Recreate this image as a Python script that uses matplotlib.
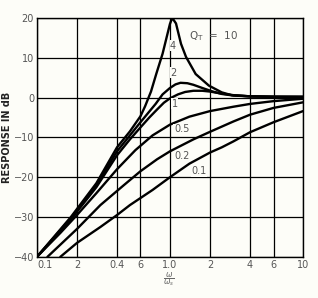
import numpy as np
import matplotlib
matplotlib.use('Agg')
import matplotlib.pyplot as plt

# values (frequency ratio, response in dB)
x_q10 = [0.1, 0.18, 0.28, 0.4, 0.5, 0.6, 0.65, 0.72, 0.79, 0.88, 0.95, 1.0, 1.04, 1.11, 1.21, 1.32, 1.56, 1.96, 2.45, 2.9, 4, 6, 10]
y_q10 = [-40, -30, -21.5, -12.5, -8.5, -4.7, -2.2, 1.5, 6, 11, 15.5, 18.5, 20, 18.6, 13.5, 10.2, 5.9, 3.0, 1.3, 0.6, 0.3, 0.2, 0.2]

x_q2 = [0.1, 0.18, 0.28, 0.4, 0.5, 0.6, 0.7, 0.78, 0.88, 1.0, 1.1, 1.2, 1.35, 1.5, 1.75, 2.1, 2.45, 3, 4, 6, 10]
y_q2 = [-40, -30.3, -22, -13.5, -9.5, -6.2, -3.5, -1.6, 0.8, 2.4, 3.3, 3.7, 3.6, 3.2, 2.4, 1.5, 0.9, 0.5, 0.3, 0.2, 0.2]

x_q1 = [0.1, 0.18, 0.28, 0.4, 0.5, 0.6, 0.7, 0.8, 0.9, 1.0, 1.15, 1.3, 1.5, 1.75, 2.0, 2.45, 3, 4, 6, 10]
y_q1 = [-40, -30.6, -22.5, -14.5, -10.5, -7.5, -5, -3, -1.3, -0.2, 0.8, 1.4, 1.7, 1.7, 1.5, 1.0, 0.6, 0.3, 0.2, 0.1]

x_q05 = [0.1, 0.15, 0.2, 0.28, 0.4, 0.55, 0.74, 1.0, 1.4, 2.0, 3, 4, 6, 10]
y_q05 = [-40, -34, -29.5, -24, -18, -13.2, -9.5, -6.8, -4.8, -3.4, -2.3, -1.6, -0.9, -0.3]

x_q02 = [0.12, 0.2, 0.3, 0.45, 0.6, 0.8, 1.0, 1.5, 2.0, 2.45, 3, 4, 6, 10]
y_q02 = [-40, -33, -27, -22, -18.5, -15.5, -13.5, -10.5, -8.6, -7.3, -6, -4.3, -2.6, -1.2]

x_q01 = [0.15, 0.2, 0.3, 0.4, 0.5, 0.74, 1.0, 1.4, 2.0, 2.45, 3, 4, 6, 10]
y_q01 = [-40, -36.5, -32.5, -29.5, -27, -23.2, -20, -16.6, -13.8, -12.5, -11, -8.7, -6.2, -3.4]

curves = [(x_q10, y_q10), (x_q2, y_q2), (x_q1, y_q1), (x_q05, y_q05), (x_q02, y_q02), (x_q01, y_q01)]

xticks = [0.1, 0.2, 0.4, 0.6, 1.0, 2, 4, 6, 10]
xticklabels = ['0.1', '2', '0.4', '6', '1.0', '2', '4', '6', '10']
yticks = [20, 10, 0, -10, -20, -30, -40]
yticklabels = ['20', '10', '0', '\u221210', '\u221220', '\u221230', '\u221240']

# curve labels: (text, x, y)
curve_labels = [('4', 1.0, 13), ('2', 1.0, 6.2), ('1', 1.03, -1.5), ('0.5', 1.07, -8), ('0.2', 1.07, -14.8), ('0.1', 1.45, -18.5)]

fig = plt.figure(figsize=(3.18, 2.98), dpi=100)
fig.patch.set_facecolor('#fdfdf8')
ax = fig.add_axes([0.116, 0.138, 0.837, 0.802])
ax.set_facecolor('#fdfdf8')

for xs, ys in curves:
    ax.plot(xs, ys, color='black', lw=1.7, solid_capstyle='round', solid_joinstyle='round')

ax.set_xscale('log')
ax.set_xlim(0.1, 10)
ax.set_ylim(-40, 20)
ax.set_xticks(xticks)
ax.set_xticklabels(xticklabels)
ax.xaxis.set_minor_locator(matplotlib.ticker.NullLocator())
ax.set_yticks(yticks)
ax.set_yticklabels(yticklabels)
ax.tick_params(length=0, labelsize=7, colors='#555555', pad=2)
ax.get_xticklabels()[0].set_horizontalalignment('left')
ax.grid(True, color='black', lw=0.9)
for s in ax.spines.values():
    s.set_color('black')
    s.set_linewidth(1.0)

for t, xv, yv in curve_labels:
    ax.text(xv, yv, t, fontsize=7, color='#555555', ha='left', va='center',
            bbox=dict(facecolor='#fdfdf8', edgecolor='none', pad=0.3))

ax.text(1.4, 15.5, r'$\mathregular{Q_T}$  =  10', fontsize=7.5, color='#555555', ha='left', va='center')

ax.set_ylabel('RESPONSE IN dB', fontsize=7, fontweight='bold', color='#222222', labelpad=1)
fig.text(0.53, 0.06, r'$\frac{\omega}{\omega_s}$', fontsize=8, color='#666666', ha='center', va='center')

fig.savefig('out.png', dpi=100, facecolor=fig.get_facecolor())
